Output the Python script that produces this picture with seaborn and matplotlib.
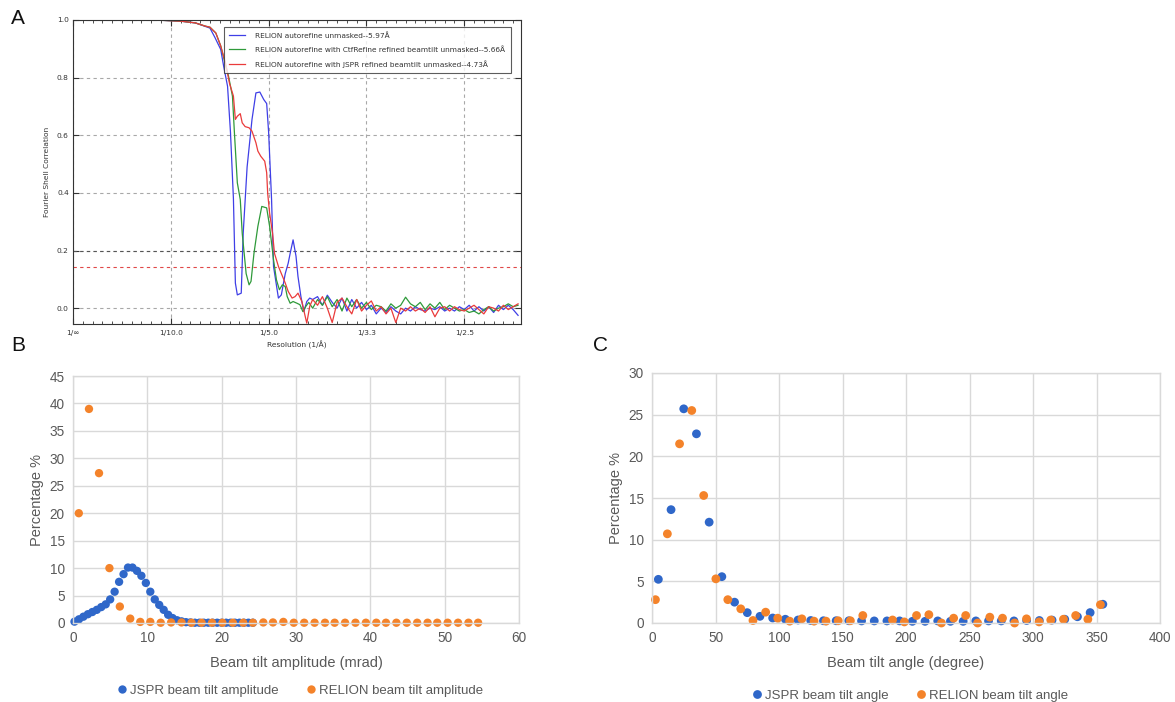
import numpy as np
import pandas as pd
import matplotlib
matplotlib.use('Agg')
import matplotlib.pyplot as plt
from matplotlib.ticker import MultipleLocator, FixedLocator
import seaborn as sns

# ---------------- panel A: FSC curves (spatial frequency in 1/A) ----------------
blue_x = [0, 0.05, 0.09, 0.11, 0.125, 0.135, 0.14, 0.145, 0.151, 0.154, 0.158, 0.161, 0.164,
          0.166, 0.168, 0.172, 0.174, 0.178, 0.183, 0.187, 0.191, 0.195, 0.198, 0.200, 0.203,
          0.205, 0.210, 0.213, 0.217, 0.220, 0.222, 0.225, 0.228, 0.230, 0.233, 0.236, 0.239, 0.242]
blue_y = [1.0, 1.0, 0.999, 0.996, 0.99, 0.978, 0.972, 0.94, 0.898, 0.84, 0.77, 0.61, 0.38,
          0.087, 0.046, 0.052, 0.26, 0.49, 0.655, 0.747, 0.75, 0.724, 0.71, 0.61, 0.377,
          0.145, 0.035, 0.046, 0.12, 0.156, 0.19, 0.237, 0.18, 0.11, 0.04, -0.012, 0.023, 0.035]

green_x = [0, 0.05, 0.09, 0.11, 0.125, 0.135, 0.14, 0.146, 0.151, 0.154, 0.159, 0.163, 0.165,
           0.168, 0.171, 0.173, 0.177, 0.180, 0.182, 0.185, 0.189, 0.193, 0.198, 0.201, 0.205,
           0.208, 0.211, 0.214, 0.217, 0.219, 0.222, 0.225, 0.229, 0.232, 0.235, 0.238, 0.241]
green_y = [1.0, 1.0, 0.999, 0.996, 0.99, 0.979, 0.975, 0.955, 0.91, 0.87, 0.805, 0.736, 0.61,
           0.435, 0.377, 0.26, 0.12, 0.081, 0.093, 0.19, 0.284, 0.353, 0.348, 0.284, 0.168,
           0.098, 0.064, 0.081, 0.075, 0.04, 0.017, 0.023, 0.017, 0.012, -0.012, 0.006, 0.02]

red_x = [0, 0.05, 0.09, 0.11, 0.125, 0.135, 0.14, 0.146, 0.151, 0.156, 0.160, 0.164, 0.166,
         0.168, 0.171, 0.173, 0.176, 0.180, 0.183, 0.187, 0.189, 0.192, 0.196, 0.198, 0.199,
         0.201, 0.204, 0.206, 0.210, 0.213, 0.217, 0.220, 0.224, 0.227, 0.230, 0.234, 0.237,
         0.239, 0.242]
red_y = [1.0, 1.0, 0.999, 0.996, 0.99, 0.979, 0.975, 0.955, 0.91, 0.85, 0.78, 0.736, 0.655,
         0.666, 0.675, 0.643, 0.63, 0.626, 0.614, 0.574, 0.545, 0.527, 0.51, 0.47, 0.40,
         0.33, 0.26, 0.19, 0.145, 0.12, 0.087, 0.058, 0.035, 0.04, 0.052, 0.023, -0.023,
         -0.052, 0.006]

# high-resolution shells (noise around zero)
tail_x = np.round(np.arange(0.245, 0.4551, 0.005), 3)
blue_tail = [0.03, 0.04, 0.01, 0.045, 0.02, 0.0, 0.035, -0.01, 0.03, 0.0,
             0.02, -0.005, 0.01, -0.02, 0.0, -0.015, 0.005, -0.01, -0.02, 0.0,
             -0.01, 0.005, -0.005, -0.01, 0.0, -0.005, 0.005, -0.01, 0.0, -0.01,
             0.005, -0.005, 0.01, -0.01, 0.005, -0.01, 0.005, -0.015, 0.01, -0.005,
             0.01, -0.005, -0.025]
green_tail = [0.0, 0.03, 0.01, 0.04, 0.005, 0.03, -0.01, 0.035, 0.005, 0.03,
              0.0, 0.02, -0.005, 0.01, 0.005, -0.01, 0.015, 0.0, 0.01, 0.038,
              0.015, 0.005, 0.02, -0.005, 0.015, 0.0, 0.02, -0.005, 0.01, 0.0,
              -0.01, -0.005, -0.015, -0.01, -0.02, -0.005, 0.005, -0.01, 0.0, 0.005,
              0.015, 0.005, 0.01]
red_tail = [0.03, 0.01, 0.04, 0.0, -0.05, 0.02, 0.035, 0.005, -0.02, 0.03,
            -0.01, 0.01, 0.025, -0.01, 0.005, -0.02, 0.0, -0.05, 0.0, -0.01,
            0.005, -0.01, 0.0, -0.015, 0.005, -0.03, 0.0, 0.005, -0.01, 0.005,
            -0.005, -0.01, 0.0, 0.01, -0.005, -0.02, 0.005, 0.0, -0.01, 0.01,
            -0.005, 0.005, 0.015]

fsc_labels = ['RELION autorefine unmasked--5.97Å',
              'RELION autorefine with CtfRefine refined beamtilt unmasked--5.66Å',
              'RELION autorefine with JSPR refined beamtilt unmasked--4.73Å']
fsc_ticks = [0, 0.1, 0.2, 0.3, 0.4]
fsc_ticklabels = ['1/∞', '1/10.0', '1/5.0', '1/3.3', '1/2.5']

# ---------------- panel B: beam tilt amplitude ----------------
amp_jspr_x = [0.2, 0.8, 1.4, 2.0, 2.6, 3.2, 3.8, 4.4, 5.0, 5.6, 6.2, 6.8, 7.4, 8.0, 8.6, 9.2,
              9.8, 10.4, 11.0, 11.6, 12.2, 12.8, 13.4, 14.0, 14.6, 15.2, 15.8, 16.4, 17.0,
              17.6, 18.2, 18.8, 19.4, 20.0, 20.6, 21.2, 21.8, 22.4, 23.0, 23.6, 24.2]
amp_jspr_y = [0.25, 0.67, 1.15, 1.6, 2.0, 2.4, 2.9, 3.4, 4.3, 5.7, 7.5, 8.9, 10.1, 10.1, 9.5,
              8.6, 7.3, 5.7, 4.3, 3.3, 2.4, 1.5, 0.9, 0.5, 0.3, 0.15, 0.1, 0.05, 0.05, 0.05,
              0.05, 0.05, 0.05, 0.05, 0.05, 0.05, 0.05, 0.05, 0.05, 0.05, 0.05]
amp_relion_x = [0.78, 2.15, 3.5, 4.9, 6.3, 7.7, 9.05, 10.4, 11.8, 13.2, 14.6, 15.95, 17.3, 18.7,
                20.1, 21.5, 22.9, 24.2, 25.6, 26.9, 28.3, 29.7, 31.1, 32.5, 33.9, 35.2, 36.6,
                38.0, 39.4, 40.8, 42.1, 43.5, 44.9, 46.3, 47.7, 49.0, 50.4, 51.8, 53.2, 54.5]
amp_relion_y = [20.0, 39.0, 27.3, 10.0, 3.0, 0.8, 0.2, 0.2, 0.05, 0.1, 0.1, 0.05, 0.05, 0.05,
                0.05, 0.05, 0.05, 0.05, 0.1, 0.1, 0.2, 0.05, 0.05, 0.05, 0.05, 0.05, 0.05,
                0.05, 0.05, 0.05, 0.05, 0.05, 0.05, 0.05, 0.05, 0.05, 0.05, 0.05, 0.05, 0.05]

# ---------------- panel C: beam tilt angle ----------------
ang_jspr_x = [5, 15, 25, 35, 45, 55, 65, 75, 85, 95, 105, 115, 125, 135, 145, 155, 165, 175,
              185, 195, 205, 215, 225, 235, 245, 255, 265, 275, 285, 295, 305, 315, 325, 335,
              345, 355]
ang_jspr_y = [5.24, 13.6, 25.7, 22.7, 12.1, 5.56, 2.5, 1.24, 0.8, 0.6, 0.45, 0.36, 0.3, 0.27,
              0.27, 0.27, 0.25, 0.25, 0.25, 0.25, 0.2, 0.2, 0.25, 0.2, 0.2, 0.25, 0.25, 0.25,
              0.25, 0.3, 0.3, 0.35, 0.45, 0.75, 1.25, 2.25]
ang_relion_x = [2.7, 12.1, 21.7, 31.3, 40.7, 50.3, 59.7, 69.9, 79.5, 89.5, 99.0, 108.4, 118.0,
                127.6, 137.0, 146.6, 156.2, 166.0, 189.4, 198.7, 208.3, 218.0, 227.9, 237.5,
                247.0, 256.4, 266.0, 276.0, 285.5, 294.9, 304.8, 314.0, 324.0, 333.6, 343.2,
                353.1]
ang_relion_y = [2.8, 10.7, 21.5, 25.5, 15.3, 5.3, 2.8, 1.7, 0.3, 1.3, 0.58, 0.22, 0.5, 0.22,
                0.22, 0.27, 0.27, 0.9, 0.36, 0.13, 0.9, 1.0, 0.0, 0.58, 0.9, 0.0, 0.7, 0.58,
                0.0, 0.5, 0.13, 0.36, 0.45, 0.9, 0.45, 2.2]

JSPR_BLUE = '#2f67c9'
RELION_ORANGE = '#f4832a'
GREY_TXT = '#595959'
GRID = '#d9d9d9'
A_TXT = '#333333'
A_FS = 5.4

fig = plt.figure(figsize=(11.75, 7.02), dpi=100)
W, H = 1175.0, 702.0


def box(left, top, right, bottom):
    return [left / W, 1 - bottom / H, (right - left) / W, (bottom - top) / H]


# ---------- A ----------
axA = fig.add_axes(box(73, 20, 521, 324))
rows = []
for name, xs, ys, tail in [(fsc_labels[0], blue_x, blue_y, blue_tail),
                           (fsc_labels[1], green_x, green_y, green_tail),
                           (fsc_labels[2], red_x, red_y, red_tail)]:
    for x, y in zip(list(xs) + list(tail_x), list(ys) + list(tail)):
        rows.append({'freq': x, 'fsc': y, 'curve': name})
fsc = pd.DataFrame(rows)
axA.grid(True, color='#a8a8a8', linestyle=(0, (3, 3)), linewidth=0.8)
axA.set_axisbelow(True)
axA.axhline(0.2, color='#555555', linestyle=(0, (3, 3)), linewidth=0.8)
axA.axhline(0.143, color='#e04848', linestyle=(0, (3, 3)), linewidth=0.8)
sns.lineplot(data=fsc, x='freq', y='fsc', hue='curve', sort=False, estimator=None,
             palette=['#3f3fe6', '#2f9a3a', '#ea3b3b'], linewidth=0.9, ax=axA)
axA.set_xlim(0, 0.458)
axA.set_ylim(-0.055, 1.0)
axA.xaxis.set_major_locator(FixedLocator(fsc_ticks))
axA.set_xticklabels(fsc_ticklabels)
axA.xaxis.set_minor_locator(MultipleLocator(0.01))
axA.yaxis.set_major_locator(MultipleLocator(0.2))
axA.tick_params(axis='both', which='both', direction='in', top=True, right=True,
                labelsize=A_FS, colors=A_TXT)
axA.tick_params(axis='y', which='major', pad=3)
axA.tick_params(axis='x', which='major', pad=4)
axA.tick_params(axis='both', which='major', length=4)
axA.tick_params(axis='both', which='minor', length=2)
for s in axA.spines.values():
    s.set_color(A_TXT)
    s.set_linewidth(0.8)
axA.set_xlabel('Resolution (1/Å)', fontsize=A_FS, color=A_TXT, labelpad=4)
axA.set_ylabel('Fourier Shell Correlation', fontsize=A_FS, color=A_TXT, labelpad=5)
legA = axA.legend(loc='upper right', fontsize=5.3, frameon=True, fancybox=False,
                  handlelength=2.2, borderpad=0.7, labelspacing=1.0, handletextpad=1.4,
                  bbox_to_anchor=(0.985, 0.99))
legA.get_frame().set_edgecolor(A_TXT)
legA.get_frame().set_linewidth(0.8)
for t in legA.get_texts():
    t.set_color(A_TXT)


def excel_axes(ax, xmax, xstep, ymax, ystep, xlabel):
    ax.set_xlim(0, xmax)
    ax.set_ylim(0, ymax)
    ax.xaxis.set_major_locator(MultipleLocator(xstep))
    ax.yaxis.set_major_locator(MultipleLocator(ystep))
    ax.grid(True, color=GRID, linewidth=1.0)
    ax.set_axisbelow(True)
    for s in ax.spines.values():
        s.set_color(GRID)
        s.set_linewidth(1.0)
    ax.tick_params(length=0, labelsize=9.8, colors=GREY_TXT, pad=6)
    for lab in ax.get_xticklabels() + ax.get_yticklabels():
        lab.set_family('Liberation Sans')
    ax.set_xlabel(xlabel, fontsize=10.5, color=GREY_TXT, family='Liberation Sans', labelpad=8)
    ax.set_ylabel('Percentage %', fontsize=10.5, color=GREY_TXT, family='Liberation Sans',
                  labelpad=4)


def bottom_legend(ax, yoff):
    leg = ax.legend(loc='center', bbox_to_anchor=(0.5, yoff), ncol=2, frameon=False,
                    handletextpad=-0.4, columnspacing=1.4, markerscale=1.0,
                    prop={'family': 'Liberation Sans', 'size': 9.5})
    for t in leg.get_texts():
        t.set_color(GREY_TXT)


# ---------- B ----------
axB = fig.add_axes(box(73, 376, 519, 623))
amp = pd.concat([
    pd.DataFrame({'x': amp_jspr_x, 'y': amp_jspr_y, 's': 'JSPR beam tilt amplitude'}),
    pd.DataFrame({'x': amp_relion_x, 'y': amp_relion_y, 's': 'RELION beam tilt amplitude'}),
])
sns.scatterplot(data=amp, x='x', y='y', hue='s', palette=[JSPR_BLUE, RELION_ORANGE],
                s=36, linewidth=0, ax=axB, clip_on=False)
excel_axes(axB, 60, 10, 45, 5, 'Beam tilt amplitude (mrad)')
bottom_legend(axB, -0.275)

# ---------- C ----------
axC = fig.add_axes(box(652, 373, 1160, 623))
ang = pd.concat([
    pd.DataFrame({'x': ang_jspr_x, 'y': ang_jspr_y, 's': 'JSPR beam tilt angle'}),
    pd.DataFrame({'x': ang_relion_x, 'y': ang_relion_y, 's': 'RELION beam tilt angle'}),
])
sns.scatterplot(data=ang, x='x', y='y', hue='s', palette=[JSPR_BLUE, RELION_ORANGE],
                s=40, linewidth=0, ax=axC, clip_on=False)
excel_axes(axC, 400, 50, 30, 5, 'Beam tilt angle (degree)')
bottom_legend(axC, -0.29)

# panel letters
for letter, px, py in [('A', 18, 18), ('B', 18, 346), ('C', 600, 346)]:
    fig.text(px / W, 1 - py / H, letter, fontsize=15, family='Liberation Sans',
             ha='center', va='center', color='#111111')

fig.savefig('out.png', dpi=100)
